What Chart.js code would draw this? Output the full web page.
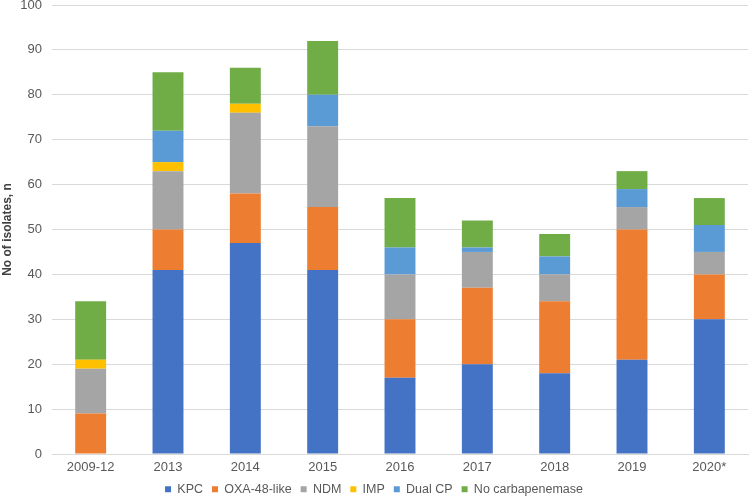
<!DOCTYPE html>
<html>
<head>
<meta charset="utf-8">
<script src="https://cdn.jsdelivr.net/npm/chart.js@4"></script>
<style>
  html, body { margin: 0; padding: 0; background: #fff; }
  #wrap { width: 750px; height: 498px; }
</style>
</head>
<body>
<div id="wrap"><canvas id="chart"></canvas></div>
<script>
// Categories and series values
const periods = ['2009-12', '2013', '2014', '2015', '2016', '2017', '2018', '2019', '2020*'];
const kpc      = [0, 41, 47, 41, 17, 20, 18, 21, 30];
const oxa48    = [9, 9, 11, 14, 13, 17, 16, 29, 10];
const ndm      = [10, 13, 18, 18, 10, 8, 6, 5, 5];
const imp      = [2, 2, 2, 0, 0, 0, 0, 0, 0];
const dualCp   = [0, 7, 0, 7, 6, 1, 4, 4, 6];
const noCarb   = [13, 13, 8, 12, 11, 6, 5, 4, 6];

const series = [
    { label: 'KPC', data: kpc, color: '#4472c4' },
    { label: 'OXA-48-like', data: oxa48, color: '#ed7d31' },
    { label: 'NDM', data: ndm, color: '#a5a5a5' },
    { label: 'IMP', data: imp, color: '#ffc000' },
    { label: 'Dual CP', data: dualCp, color: '#5b9bd5' },
    { label: 'No carbapenemase', data: noCarb, color: '#70ad47' }
];

Chart.defaults.font.family = '"Liberation Sans", Arial, sans-serif';
Chart.defaults.color = '#595959';

// Keep the legend strip short while keeping wide spacing between items
const legendHeight = {
    id: 'legendHeight',
    beforeLayout(chart) {
        const lg = chart.legend;
        if (lg && !lg._fixed) {
            const fit = lg.fit.bind(lg);
            lg.fit = function () { fit(); this.height = 24; };
            lg._fixed = true;
        }
    }
};

const ctx = document.getElementById('chart').getContext('2d');
new Chart(ctx, {
    type: 'bar',
    data: {
        labels: periods,
        datasets: series.map(s => ({
            label: s.label,
            data: s.data,
            backgroundColor: s.color,
            borderWidth: 0,
            categoryPercentage: 1,
            barPercentage: 0.4
        }))
    },
    plugins: [legendHeight],
    options: {
        responsive: true,
        maintainAspectRatio: false,
        animation: false,
        layout: { padding: { left: 0, right: 2, top: 5, bottom: 0 } },
        plugins: {
            legend: {
                position: 'bottom',
                labels: {
                    boxWidth: 6,
                    boxHeight: 6,
                    padding: 9,
                    font: { size: 12.5 },
                    color: '#595959'
                }
            },
            tooltip: { enabled: false }
        },
        scales: {
            x: {
                stacked: true,
                grid: { display: false, drawTicks: false },
                border: { color: '#d9d9d9' },
                ticks: { font: { size: 13 }, color: '#595959', padding: 6 },
                afterFit: axis => { axis.height = 20; }
            },
            y: {
                stacked: true,
                min: 0,
                max: 100,
                ticks: { stepSize: 10, font: { size: 13 }, color: '#595959', padding: 10 },
                grid: { color: '#d9d9d9', drawTicks: false },
                border: { display: false },
                title: {
                    display: true,
                    text: 'No of isolates, n',
                    font: { size: 12, weight: 'bold' },
                    color: '#404040',
                    padding: 0
                },
                afterFit: axis => { axis.width = 52; axis.paddingTop = 0; }
            }
        }
    }
});
</script>
</body>
</html>
